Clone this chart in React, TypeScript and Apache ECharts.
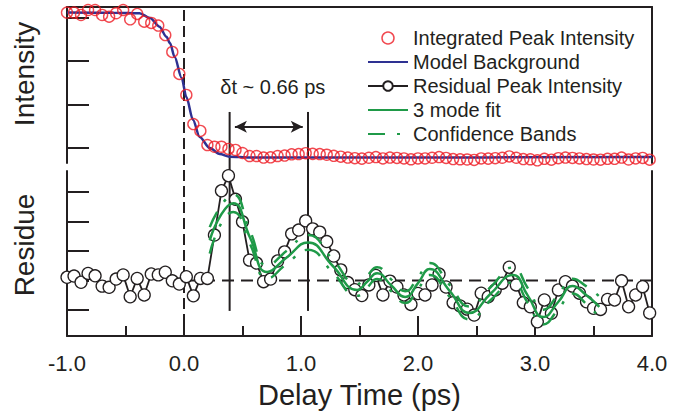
import React, { useEffect, useRef } from 'react';
import * as echarts from 'echarts';

const FONT = '"Liberation Sans", Arial, Helvetica, sans-serif';
const INK = '#231f20';
const RED = '#ed1c24';
const BLUE = '#2e3192';
const GREEN = '#1f9a48';

// Delay times (ps) shared by the measured peak intensity and its residual
const times = [
  -1.0, -0.94, -0.88, -0.82, -0.76, -0.7, -0.64, -0.58, -0.52, -0.46,
  -0.4, -0.34, -0.28, -0.22, -0.16, -0.1, -0.04, 0.02, 0.08, 0.14,
  0.2, 0.26, 0.32, 0.38, 0.44, 0.5, 0.56, 0.62, 0.68, 0.74,
  0.8, 0.86, 0.92, 0.98, 1.04, 1.1, 1.16, 1.22, 1.28, 1.34,
  1.4, 1.46, 1.52, 1.58, 1.64, 1.7, 1.76, 1.82, 1.88, 1.94,
  2.0, 2.06, 2.12, 2.18, 2.24, 2.3, 2.36, 2.42, 2.48, 2.54,
  2.6, 2.66, 2.72, 2.78, 2.84, 2.9, 2.96, 3.02, 3.08, 3.14,
  3.2, 3.26, 3.32, 3.38, 3.44, 3.5, 3.56, 3.62, 3.68, 3.74,
  3.8, 3.86, 3.92, 3.98,
];

// Integrated peak intensity (normalised)
const integrated = [
  1.025, 1.025, 1.014, 1.037, 1.037, 1.014, 1.006, 1.022, 1.037, 0.994,
  1.019, 0.983, 0.977, 0.965, 0.921, 0.843, 0.741, 0.644, 0.509, 0.477,
  0.412, 0.404, 0.404, 0.394, 0.389, 0.375, 0.361, 0.361, 0.354, 0.355,
  0.361, 0.363, 0.369, 0.37, 0.374, 0.371, 0.37, 0.367, 0.362, 0.358,
  0.354, 0.351, 0.349, 0.353, 0.356, 0.35, 0.354, 0.352, 0.35, 0.346,
  0.35, 0.35, 0.353, 0.356, 0.352, 0.347, 0.346, 0.345, 0.343, 0.35,
  0.349, 0.351, 0.353, 0.359, 0.353, 0.347, 0.346, 0.341, 0.348, 0.344,
  0.351, 0.354, 0.352, 0.35, 0.347, 0.345, 0.344, 0.348, 0.348, 0.354,
  0.345, 0.35, 0.352, 0.344,
];

// Residual peak intensity (arb. units)
const residual = [
  0.11, 0.15, -0.06, 0.24, 0.16, -0.19, -0.23, 0.05, 0.19, -0.55,
  0.07, -0.49, 0.22, 0.19, 0.28, -0.01, -0.12, 0.13, -0.52, 0.07,
  0.07, 1.54, 3.04, 3.55, 2.75, 1.99, 0.69, 0.59, -0.04, 0.05,
  0.66, 0.97, 1.58, 1.71, 2.02, 1.75, 1.64, 1.32, 0.83, 0.36,
  -0.07, -0.31, -0.51, -0.15, 0.17, -0.49, -0.02, -0.22, -0.49, -0.81,
  -0.44, -0.49, -0.15, 0.22, -0.22, -0.75, -0.86, -0.97, -1.17, -0.43,
  -0.55, -0.32, -0.09, 0.45, -0.15, -0.75, -0.89, -1.4, -0.66, -1.11,
  -0.32, -0.04, -0.19, -0.43, -0.72, -0.94, -0.98, -0.64, -0.66, -0.01,
  -0.89, -0.49, -0.21, -1.1,
];

// Model background curve
const bgX = [-1.0, -0.6, -0.38, -0.29, -0.21, -0.15, -0.12, -0.08, -0.02, 0.02, 0.077, 0.134, 0.22, 0.305, 0.39, 0.56, 1.5, 4.0];
const bgY = [1.025, 1.024, 1.022, 1.0, 0.96, 0.913, 0.884, 0.819, 0.722, 0.634, 0.528, 0.449, 0.398, 0.37, 0.358, 0.354, 0.354, 0.356];

// 3 mode fit and confidence bands
const fitX = [0.22, 0.32, 0.42, 0.565, 0.71, 0.88, 1.06, 1.27, 1.48, 1.565, 1.65, 1.77, 1.89, 2.0, 2.1, 2.27, 2.44, 2.62, 2.81, 2.94, 3.07, 3.2, 3.32, 3.44, 3.55];
const fitY = [1.36, 2.25, 2.62, 1.45, 0.29, 0.79, 1.29, 0.5, -0.32, -0.04, 0.25, -0.16, -0.56, -0.09, 0.39, -0.35, -1.1, -0.45, 0.19, -0.52, -1.24, -0.72, -0.19, -0.5, -0.89];
const bandUpper = [1.81, 2.55, 2.92, 1.67, 0.51, 1.01, 1.54, 0.72, -0.12, 0.16, 0.45, 0.04, -0.36, 0.11, 0.59, -0.15, -0.88, -0.23, 0.44, -0.27, -0.99, -0.47, 0.06, -0.2, -0.54];
const bandLower = [0.91, 1.95, 2.32, 1.23, 0.07, 0.57, 1.04, 0.28, -0.52, -0.24, 0.05, -0.36, -0.76, -0.29, 0.19, -0.55, -1.32, -0.67, -0.06, -0.77, -1.49, -0.97, -0.44, -0.8, -1.24];

const intensityTicks = [0.4, 0.6, 0.8, 1.0];
const residueTicks = [-1, 0, 1, 2, 3];

const dtStart = 0.39;
const dtEnd = 1.06;
const dtLabel = 'δt ~ 0.66 ps';

const zip = (xs: number[], ys: number[]) => xs.map((x, i) => [x, ys[i]]);

export default function App() {
  const ref = useRef<HTMLDivElement>(null);

  useEffect(() => {
    document.body.style.margin = '0';
    if (!ref.current) return;
    const chart = echarts.init(ref.current, undefined, { renderer: 'svg' });

    const axisLine = { show: true, onZero: false, lineStyle: { color: INK, width: 2 } };
    const hidden = {
      axisTick: { show: false },
      axisLabel: { show: false },
      splitLine: { show: false },
    };
    const noMarker = { color: 'rgba(0,0,0,0)', borderWidth: 0, opacity: 0 };

    const option: any = {
      animation: false,
      backgroundColor: '#ffffff',
      textStyle: { fontFamily: FONT },
      grid: [
        { left: 67, right: 38, top: 7, height: 156, outerBoundsMode: 'none' },
        { left: 67, right: 38, top: 171, height: 165, outerBoundsMode: 'none' },
      ],
      xAxis: [
        {
          gridIndex: 0, type: 'value', position: 'top', min: -1, max: 4,
          axisLine, ...hidden,
        },
        {
          gridIndex: 1, type: 'value', position: 'bottom', min: -1, max: 4, interval: 1,
          axisLine,
          axisTick: { show: true, inside: true, length: 20, lineStyle: { color: INK, width: 2 } },
          minorTick: { show: true, splitNumber: 2, length: 10, lineStyle: { color: INK, width: 2 } },
          axisLabel: {
            show: true, margin: 16, fontSize: 22, color: INK, fontFamily: FONT,
            formatter: (v: number) => v.toFixed(1),
          },
          splitLine: { show: false },
          minorSplitLine: { show: false },
          name: 'Delay Time (ps)', nameLocation: 'middle', nameGap: 44, nameMoveOverlap: false,
          nameTextStyle: { fontSize: 29, color: INK, fontFamily: FONT },
        },
      ],
      yAxis: [
        {
          gridIndex: 0, type: 'value', position: 'left', min: 0.3287, max: 1.0509,
          axisLine,
          axisTick: { show: true, inside: true, length: 22, lineStyle: { color: INK, width: 2 }, customValues: intensityTicks },
          axisLabel: { show: false },
          splitLine: { show: false },
          name: 'Intensity', nameLocation: 'middle', nameRotate: 90, nameGap: 29, nameMoveOverlap: false,
          nameTextStyle: { fontSize: 28, color: INK, fontFamily: FONT, padding: [0, 0, 0, 22] },
        },
        {
          gridIndex: 0, type: 'value', position: 'right', min: 0.3287, max: 1.0509,
          axisLine, ...hidden,
        },
        {
          gridIndex: 1, type: 'value', position: 'left', min: -1.88, max: 3.71,
          axisLine,
          axisTick: { show: true, inside: true, length: 22, lineStyle: { color: INK, width: 2 }, customValues: residueTicks },
          axisLabel: { show: false },
          splitLine: { show: false },
          name: 'Residue', nameLocation: 'middle', nameRotate: 90, nameGap: 29, nameMoveOverlap: false,
          nameTextStyle: { fontSize: 28, color: INK, fontFamily: FONT, padding: [0, 0, 0, 17] },
        },
        {
          gridIndex: 1, type: 'value', position: 'right', min: -1.88, max: 3.71,
          axisLine, ...hidden,
        },
      ],
      legend: {
        show: true,
        orient: 'vertical',
        left: 362,
        top: 21,
        itemWidth: 40,
        itemHeight: 12,
        itemGap: 0,
        selectedMode: false,
        textStyle: { fontSize: 20, lineHeight: 24, color: INK, fontFamily: FONT },
        data: [
          { name: 'Integrated Peak Intensity', icon: 'circle', itemStyle: { color: 'rgba(0,0,0,0)', borderColor: RED, borderWidth: 1.5 } },
          { name: 'Model Background', itemStyle: noMarker },
          { name: 'Residual Peak Intensity' },
          { name: '3 mode fit', itemStyle: noMarker },
          { name: 'Confidence Bands', itemStyle: noMarker },
        ],
      },
      series: [
        {
          name: 'Integrated Peak Intensity', type: 'scatter', xAxisIndex: 0, yAxisIndex: 0,
          data: zip(times, integrated), symbol: 'circle', symbolSize: 11, z: 4,
          itemStyle: { color: 'rgba(0,0,0,0)', borderColor: RED, borderWidth: 1.4 },
          emphasis: { disabled: true }, silent: true,
        },
        {
          name: 'Model Background', type: 'line', xAxisIndex: 0, yAxisIndex: 0,
          data: zip(bgX, bgY), symbol: 'none', showSymbol: false, smooth: 0.3, smoothMonotone: 'x', z: 3,
          lineStyle: { color: BLUE, width: 2.5 }, itemStyle: { color: BLUE },
          emphasis: { disabled: true }, silent: true,
          markLine: {
            silent: true, symbol: ['arrow', 'arrow'], symbolSize: [9, 12],
            label: { show: false }, emphasis: { disabled: true },
            lineStyle: { color: INK, width: 2, type: 'solid' },
            data: [[{ coord: [0.435, 0.497] }, { coord: [1.015, 0.497] }]],
          },
        },
        {
          name: 'zero', type: 'line', xAxisIndex: 1, yAxisIndex: 2,
          data: [[0, 0], [4, 0]], symbol: 'none', z: 1, silent: true,
          lineStyle: { color: INK, width: 2, type: [12, 7] },
        },
        {
          name: 'Residual Peak Intensity', type: 'line', xAxisIndex: 1, yAxisIndex: 2,
          data: zip(times, residual), symbol: 'circle', symbolSize: 12, showSymbol: true, showAllSymbol: true, z: 3,
          lineStyle: { color: INK, width: 1.8 },
          itemStyle: { color: '#ffffff', borderColor: INK, borderWidth: 1.3 },
          emphasis: { disabled: true }, silent: true,
        },
        {
          name: '3 mode fit', type: 'line', xAxisIndex: 1, yAxisIndex: 2,
          data: zip(fitX, fitY), symbol: 'none', smooth: 0.5, z: 5,
          lineStyle: { color: GREEN, width: 2.5 }, itemStyle: { color: GREEN },
          emphasis: { disabled: true }, silent: true,
        },
        {
          name: 'Confidence Bands', type: 'line', xAxisIndex: 1, yAxisIndex: 2,
          data: zip(fitX, bandUpper), symbol: 'none', smooth: 0.5, z: 5,
          lineStyle: { color: GREEN, width: 2.5, type: [17, 12, 3, 12] }, itemStyle: { color: GREEN },
          emphasis: { disabled: true }, silent: true,
        },
        {
          name: 'Confidence Bands', type: 'line', xAxisIndex: 1, yAxisIndex: 2,
          data: zip(fitX, bandLower), symbol: 'none', smooth: 0.5, z: 5,
          lineStyle: { color: GREEN, width: 2.5, type: [17, 12, 3, 12] }, itemStyle: { color: GREEN },
          emphasis: { disabled: true }, silent: true,
        },
      ],
    };

    chart.setOption(option);

    const top = (x: number, y: number) => chart.convertToPixel({ seriesIndex: 0 }, [x, y]) as number[];
    const bot = (x: number, y: number) => chart.convertToPixel({ seriesIndex: 3 }, [x, y]) as number[];

    const vLine = (x: number, yTop: number, yBot: number, dash: number[] | null) => {
      const a = top(x, yTop);
      const b = bot(x, yBot);
      return {
        type: 'line', z: 0, silent: true,
        shape: { x1: a[0], y1: a[1], x2: b[0], y2: b[1] },
        style: { stroke: INK, lineWidth: 2, lineDash: dash || undefined },
      };
    };

    const p1 = top(dtStart, 0.68);
    const p2 = top(dtEnd, 0.68);

    chart.setOption({
      graphic: [
        vLine(0, 1.037, -1.88, [11, 5]),
        vLine(dtStart, 0.565, -1.03, null),
        vLine(dtEnd, 0.565, -1.03, null),
        {
          type: 'text', z: 10, silent: true,
          x: (p1[0] + p2[0]) / 2 + 4, y: p1[1],
          style: { text: dtLabel, fontSize: 20, fontFamily: FONT, fill: INK, align: 'center', verticalAlign: 'middle' },
        },
      ],
    });

    return () => chart.dispose();
  }, []);

  return <div ref={ref} style={{ width: 690, height: 418 }} />;
}
